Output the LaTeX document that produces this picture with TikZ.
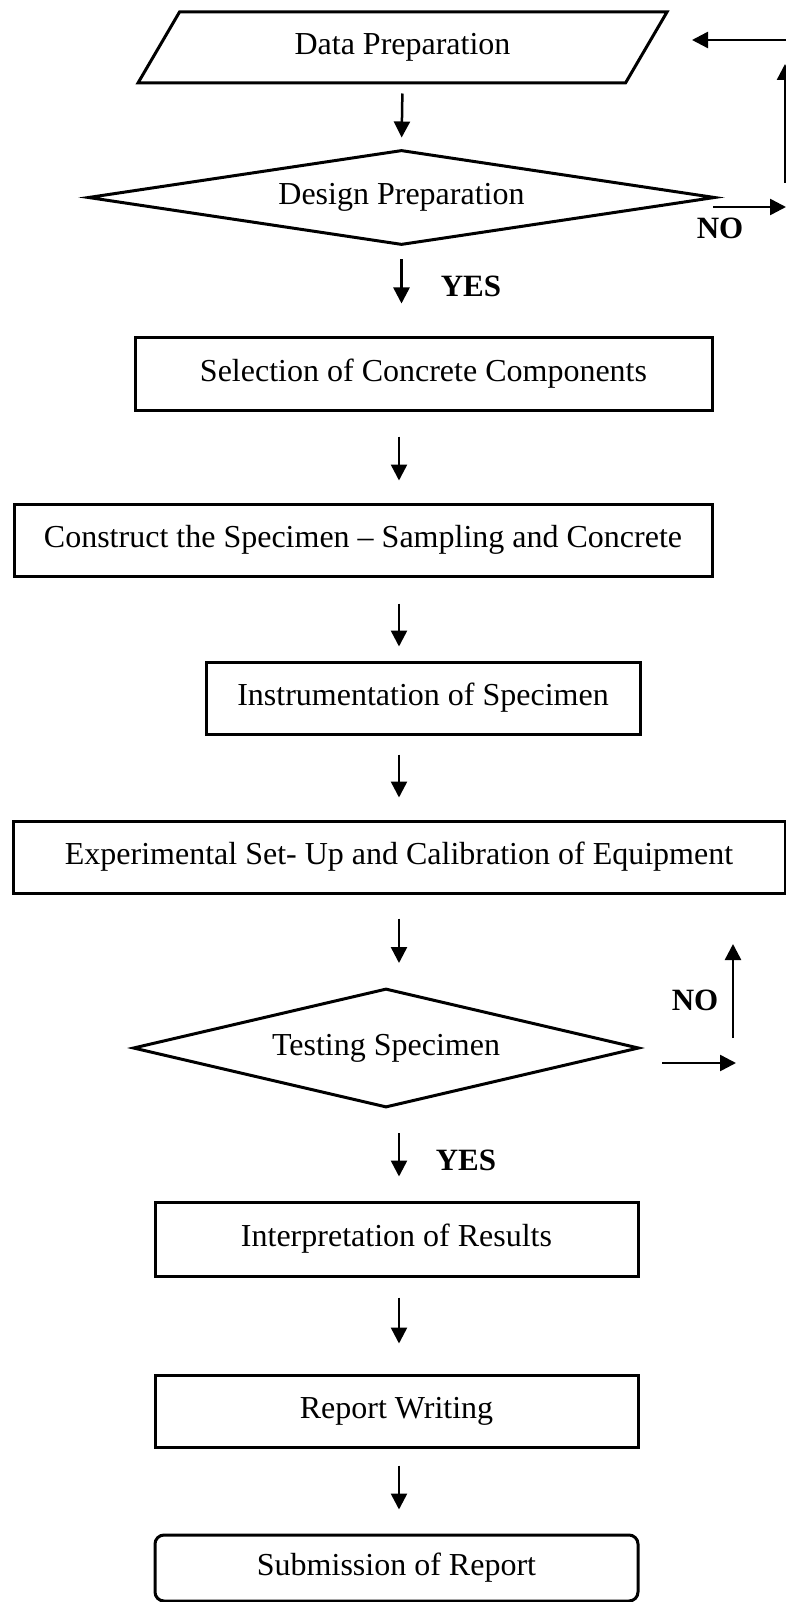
\documentclass[tikz,border=0pt]{standalone}
\usepackage{fontspec}
\setmainfont{Liberation Serif}
\usetikzlibrary{shapes.geometric,arrows.meta}

\tikzset{
  box/.style={draw, line width=3pt, rectangle, inner sep=0pt, minimum height=72pt,
    font=\fontsize{32}{38}\selectfont},
  decision/.style={draw, line width=3pt, diamond, inner sep=0pt, aspect=7,
    font=\fontsize{32}{38}\selectfont},
  arr/.style={line width=2.5pt, -{Triangle[length=16pt,width=16pt]}},
  lbl/.style={font=\fontsize{31}{36}\selectfont\bfseries}
}

\begin{document}
\begin{tikzpicture}[x=1pt,y=-1pt]
  \useasboundingbox (0,0) rectangle (786,1602);

  % Data and design stage
  \node[draw, line width=3pt, trapezium, trapezium left angle=34, trapezium right angle=146,
    trapezium stretches body, inner sep=0pt, minimum height=71pt, minimum width=529pt,
    font=\fontsize{32}{38}\selectfont] (dp) at (402.5,47.5) {Data Preparation};
  \node[decision, minimum width=627pt, minimum height=95pt] (dsg) at (401.5,197.5) {Design Preparation};

  % Process boxes
  \node[box, minimum width=577pt, minimum height=73pt] (sel) at (423.5,373.5) {Selection of Concrete Components};
  \node[box, minimum width=698pt] (con) at (363,540) {Construct the Specimen -- Sampling and Concrete};
  \node[box, minimum width=434pt] (ins) at (423,698) {Instrumentation of Specimen};
  \node[box, minimum width=772pt] (exp) at (399,857) {Experimental Set- Up and Calibration of Equipment};
  \node[decision, minimum width=506pt, minimum height=119pt] (tst) at (386,1048) {Testing Specimen};
  \node[box, minimum width=483pt, minimum height=74pt] (int) at (396.5,1239) {Interpretation of Results};
  \node[box, minimum width=483pt] (rep) at (396.5,1411) {Report Writing};
  \node[box, minimum width=483pt, minimum height=66pt, rounded corners=9pt] (sub) at (396.5,1568) {Submission of Report};

  % Column of the main arrows
  \coordinate (ax) at (399,0);

  \draw[arr, shorten <=9pt, shorten >=11pt] (dp.south) -- (dsg.north);
  \draw[arr, shorten <=13pt, shorten >=32pt] (dsg.south) -- (dsg.south |- sel.north);
  \draw[arr, shorten <=25pt, shorten >=22pt] (sel.south -| ax) -- (con.north -| ax);
  \draw[arr, shorten <=26pt, shorten >=14pt] (con.south -| ax) -- (ins.north -| ax);
  \draw[arr, shorten <=19pt, shorten >=22pt] (ins.south -| ax) -- (exp.north -| ax);
  \draw[arr, shorten <=24pt, shorten >=24pt] (exp.south -| ax) -- (tst.north -| ax);
  \draw[arr, shorten <=24pt, shorten >=24pt] (tst.south -| ax) -- (int.north -| ax);
  \draw[arr, shorten <=20pt, shorten >=30pt] (int.south -| ax) -- (rep.north -| ax);
  \draw[arr, shorten <=17pt, shorten >=24pt] (rep.south -| ax) -- (sub.north -| ax);

  \node[lbl] (yes1) at (471,286) {YES};
  \node[lbl] (yes2) at (466,1160) {YES};

  % NO branch of the design step
  \coordinate (n1a) at (713,207);
  \coordinate (n1b) at (786,207);
  \coordinate (n1c) at (785,183);
  \coordinate (n1d) at (785,64);
  \coordinate (n1e) at (787,40);
  \coordinate (n1f) at (692,40);
  \draw[arr] (n1a) -- (n1b);
  \draw[arr] (n1c) -- (n1d);
  \draw[arr] (n1e) -- (n1f);
  \node[lbl] (no1) at (720,228) {NO};

  % NO branch of the testing step
  \coordinate (n2a) at (662,1063);
  \coordinate (n2b) at (736,1063);
  \coordinate (n2c) at (733,1038);
  \coordinate (n2d) at (733,944);
  \draw[arr] (n2a) -- (n2b);
  \draw[arr] (n2c) -- (n2d);
  \node[lbl] (no2) at (695,1000) {NO};
\end{tikzpicture}
\end{document}
